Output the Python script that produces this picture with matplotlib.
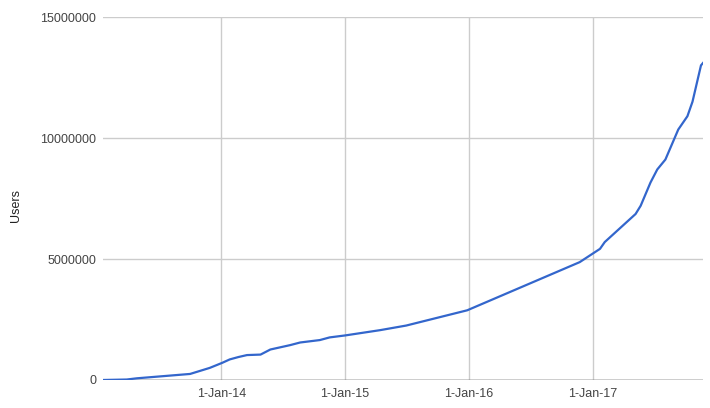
import matplotlib
matplotlib.use("Agg")
import matplotlib.pyplot as plt
import matplotlib.dates as mdates
import numpy as np
import datetime as dt

dates = ["2013-01-17", "2013-03-28", "2013-04-27", "2013-10-01", "2013-11-28",
         "2014-01-04", "2014-01-26", "2014-02-21", "2014-03-18", "2014-04-27",
         "2014-05-26", "2014-07-23", "2014-08-22", "2014-10-19", "2014-11-17",
         "2015-01-01", "2015-04-15", "2015-07-01", "2015-12-28", "2016-11-24",
         "2017-01-23", "2017-02-06", "2017-05-08", "2017-05-23", "2017-06-21",
         "2017-07-11", "2017-08-04", "2017-09-11", "2017-10-08", "2017-10-23",
         "2017-11-17", "2017-11-23"]
users = [0, 20000, 70000, 250000, 500000,
         710000, 850000, 950000, 1030000, 1050000,
         1260000, 1440000, 1550000, 1650000, 1760000,
         1840000, 2060000, 2250000, 2880000, 4870000,
         5420000, 5700000, 6860000, 7200000, 8160000,
         8700000, 9110000, 10350000, 10900000, 11500000,
         13000000, 13100000]
xtick_dates = ["2014-01-01", "2015-01-01", "2016-01-01", "2017-01-01"]
xtick_labels = ["1-Jan-14", "1-Jan-15", "1-Jan-16", "1-Jan-17"]
yticks = [0, 5000000, 10000000, 15000000]
ylabel = "Users"

plt.rcParams['font.family'] = ['Liberation Sans', 'DejaVu Sans']

x = [dt.datetime.strptime(d, "%Y-%m-%d") for d in dates]
xt = [dt.datetime.strptime(d, "%Y-%m-%d") for d in xtick_dates]

W, H = 710, 408
fig = plt.figure(figsize=(W / 100, H / 100), dpi=100)
ax = fig.add_axes([103 / W, (H - 380) / H, 600 / W, (380 - 17) / H])

ax.plot(x, users, color="#3366cc", lw=1.6, solid_joinstyle="round", zorder=3)
ax.set_xlim(x[0], x[-1])
ax.set_ylim(0, 15000000)
ax.set_yticks(yticks)
ax.set_yticklabels([str(v) for v in yticks])
ax.set_xticks(xt)
ax.set_xticklabels(xtick_labels)
ax.tick_params(length=0, labelsize=9, colors="#444444")
ax.tick_params(axis="y", pad=5)
ax.tick_params(axis="x", pad=6)
ax.grid(True, color="#cccccc", lw=1.0)
ax.set_axisbelow(True)
ax.axhline(0, color="#333333", lw=1.0, zorder=2)
for s in ax.spines.values():
    s.set_visible(False)
ax.set_ylabel(ylabel, fontsize=9, color="#222222")
ax.yaxis.set_label_coords(-81 / 600, (380 - 205) / (380 - 17))

fig.savefig("out.png", dpi=100)
